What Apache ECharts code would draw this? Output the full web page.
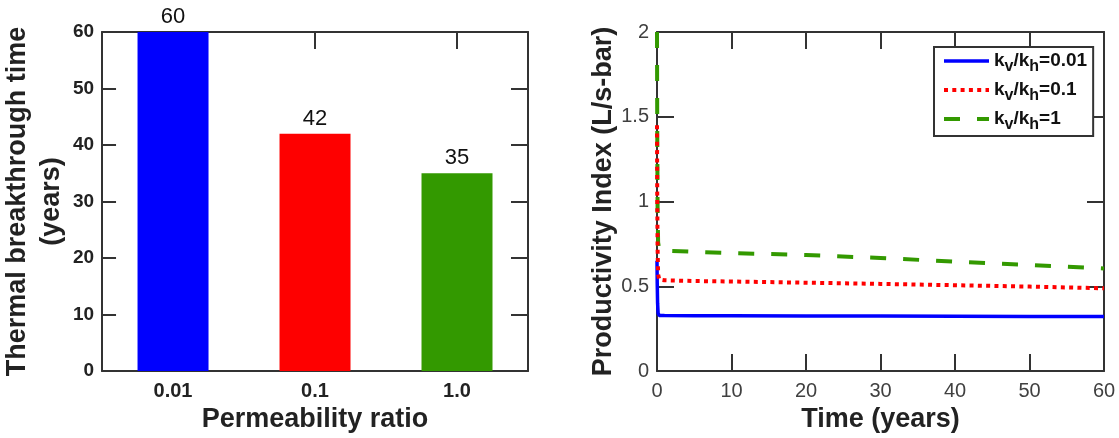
<!DOCTYPE html>
<html>
<head>
<meta charset="utf-8">
<title>Thermal breakthrough and productivity index</title>
<script src="https://cdn.jsdelivr.net/npm/echarts@6/dist/echarts.min.js"></script>
<style>
  html, body { margin: 0; padding: 0; background: #fff; }
  #chart { width: 1119px; height: 438px; }
</style>
</head>
<body>
<div id="chart"></div>
<script>
// Left panel: breakthrough time per permeability ratio
const permeabilityRatios = ['0.01', '0.1', '1.0'];
const breakthroughYears = [60, 42, 35];
const breakthroughTicks = [0, 10, 20, 30, 40, 50, 60];

// Right panel: productivity index history (years, L/s-bar)
const timeYears = [0, 0.03, 0.08, 0.15, 0.3, 1, 5, 10, 20, 30, 40, 50, 60];
const piRatio001 = [0.65, 0.52, 0.40, 0.34, 0.328, 0.327, 0.326, 0.326, 0.325, 0.324, 0.323, 0.322, 0.321];
const piRatio01  = [1.45, 1.05, 0.72, 0.57, 0.54, 0.535, 0.531, 0.528, 0.521, 0.514, 0.506, 0.498, 0.488];
const piRatio1   = [2.0, 1.45, 0.95, 0.76, 0.715, 0.71, 0.703, 0.696, 0.684, 0.667, 0.645, 0.626, 0.605];
const ratioSuffixes = ['0.01', '0.1', '1'];
const timeTicks = [0, 10, 20, 30, 40, 50, 60];
const piTicks = [0, 0.5, 1, 1.5, 2];

const barPalette = ['#0000fe', '#fe0000', '#339900'];
const linePalette = ['#0000ff', '#ff0000', '#339900'];
const lineStyles = [
  { width: 3.5, type: 'solid' },
  { width: 4, type: [4, 4.3] },
  { width: 4, type: [16, 17] }
];

const FONT = '"Liberation Sans", Arial, Helvetica, sans-serif';
const AXIS_COLOR = '#333';

const zip = (xs, ys) => xs.map((x, i) => [x, ys[i]]);
const seriesName = (i) => 'kv/kh=' + ratioSuffixes[i];

function boxAxis(extra) {
  return Object.assign({
    axisLine: { show: true, onZero: false, lineStyle: { color: AXIS_COLOR, width: 2 } },
    axisTick: { show: true, inside: true, length: 17, lineStyle: { color: AXIS_COLOR, width: 2 } },
    splitLine: { show: false },
    axisLabel: { show: false }
  }, extra);
}

function piSeries(i, values, z) {
  return {
    name: seriesName(i), type: 'line', xAxisIndex: 2, yAxisIndex: 2,
    data: zip(timeYears, values), symbol: 'none', clip: false, z: z,
    lineStyle: Object.assign({ color: linePalette[i] }, lineStyles[i]),
    itemStyle: { color: linePalette[i] }
  };
}

const chart = echarts.init(document.getElementById('chart'), null, { renderer: 'canvas' });

const option = {
  animation: false,
  backgroundColor: '#fff',
  textStyle: { fontFamily: FONT },
  grid: [
    { left: 102, top: 32, width: 426, height: 339 },
    { left: 657, top: 32, width: 447, height: 339 }
  ],
  xAxis: [
    boxAxis({
      type: 'category', gridIndex: 0, position: 'bottom',
      data: permeabilityRatios,
      axisTick: { show: true, inside: true, alignWithLabel: true, length: 17, lineStyle: { color: AXIS_COLOR, width: 2 } },
      axisLabel: { show: true, margin: 10, color: '#222', fontFamily: FONT, fontWeight: 'bold', fontSize: 20 },
      name: 'Permeability ratio', nameLocation: 'middle', nameGap: 34,
      nameTextStyle: { color: '#222', fontFamily: FONT, fontWeight: 'bold', fontSize: 27 }
    }),
    boxAxis({
      type: 'category', gridIndex: 0, position: 'top',
      data: permeabilityRatios,
      axisTick: { show: true, inside: true, alignWithLabel: true, length: 17, lineStyle: { color: AXIS_COLOR, width: 2 } }
    }),
    boxAxis({
      type: 'value', gridIndex: 1, position: 'bottom',
      min: timeTicks[0], max: timeTicks[timeTicks.length - 1], interval: timeTicks[1] - timeTicks[0],
      axisLabel: { show: true, margin: 10, color: '#404040', fontFamily: FONT, fontSize: 20 },
      name: 'Time (years)', nameLocation: 'middle', nameGap: 34,
      nameTextStyle: { color: '#222', fontFamily: FONT, fontWeight: 'bold', fontSize: 27 }
    }),
    boxAxis({
      type: 'value', gridIndex: 1, position: 'top',
      min: timeTicks[0], max: timeTicks[timeTicks.length - 1], interval: timeTicks[1] - timeTicks[0]
    })
  ],
  yAxis: [
    boxAxis({
      type: 'value', gridIndex: 0, position: 'left',
      min: breakthroughTicks[0], max: breakthroughTicks[breakthroughTicks.length - 1],
      interval: breakthroughTicks[1] - breakthroughTicks[0],
      axisTick: { show: true, inside: true, length: 14, lineStyle: { color: AXIS_COLOR, width: 2 } },
      axisLabel: { show: true, margin: 8, color: '#222', fontFamily: FONT, fontWeight: 'bold', fontSize: 19 },
      name: 'Thermal breakthrough time\n(years)', nameLocation: 'middle', nameGap: 31,
      nameTextStyle: { color: '#222', fontFamily: FONT, fontWeight: 'bold', fontSize: 27, lineHeight: 34 }
    }),
    boxAxis({
      type: 'value', gridIndex: 0, position: 'right',
      min: breakthroughTicks[0], max: breakthroughTicks[breakthroughTicks.length - 1],
      interval: breakthroughTicks[1] - breakthroughTicks[0]
    }),
    boxAxis({
      type: 'value', gridIndex: 1, position: 'left',
      min: piTicks[0], max: piTicks[piTicks.length - 1], interval: piTicks[1] - piTicks[0],
      axisLabel: { show: true, margin: 8, color: '#404040', fontFamily: FONT, fontSize: 20 },
      name: 'Productivity Index (L/s-bar)', nameLocation: 'middle', nameGap: 40,
      nameTextStyle: { color: '#222', fontFamily: FONT, fontWeight: 'bold', fontSize: 27 }
    }),
    boxAxis({
      type: 'value', gridIndex: 1, position: 'right',
      min: piTicks[0], max: piTicks[piTicks.length - 1], interval: piTicks[1] - piTicks[0]
    })
  ],
  legend: {
    show: true,
    data: [0, 1, 2].map(i => ({
      name: seriesName(i),
      lineStyle: Object.assign({ color: linePalette[i] }, lineStyles[i]),
      itemStyle: { opacity: 0 }
    })),
    orient: 'vertical',
    left: 934, top: 47,
    padding: [0, 6, 3, 8],
    itemGap: 1,
    itemWidth: 45,
    itemHeight: 14,
    itemTextGap: 2,
    backgroundColor: '#fff',
    borderColor: AXIS_COLOR,
    borderWidth: 2,
    borderRadius: 0,
    selectedMode: false,
    itemStyle: { opacity: 0 },
    formatter: function (name) {
      const suffix = name.split('=')[1];
      return '{m|k}{s|v}{m|/k}{s|h}{m|=' + suffix + '}';
    },
    textStyle: {
      fontFamily: FONT, fontWeight: 'bold', color: '#111', fontSize: 19,
      rich: {
        m: { fontFamily: FONT, fontWeight: 'bold', color: '#111', fontSize: 19 },
        s: { fontFamily: FONT, fontWeight: 'bold', color: '#111', fontSize: 16, lineHeight: 24, padding: [12, 0, 0, 0] }
      }
    }
  },
  series: [
    {
      type: 'bar', xAxisIndex: 0, yAxisIndex: 0,
      barWidth: '50%',
      data: breakthroughYears.map((v, i) => ({ value: v, itemStyle: { color: barPalette[i] } })),
      label: {
        show: true, position: 'top', distance: 4,
        color: '#111', fontFamily: FONT, fontSize: 22
      },
      z: 3
    },
    piSeries(0, piRatio001, 5),
    piSeries(1, piRatio01, 5),
    piSeries(2, piRatio1, 4)
  ]
};

chart.setOption(option);
</script>
</body>
</html>
